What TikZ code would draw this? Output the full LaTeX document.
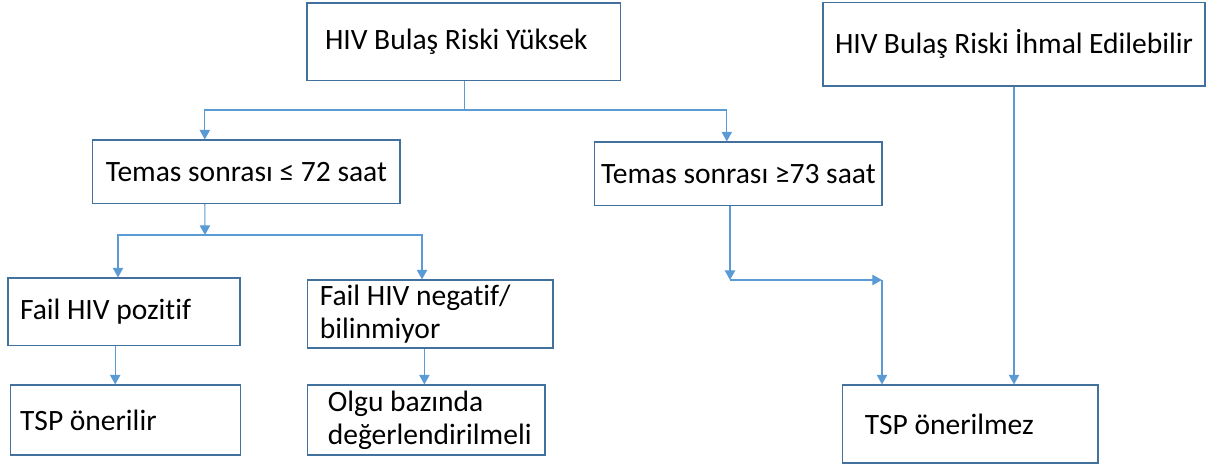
\documentclass[tikz,border=0pt]{standalone}
\usepackage{fontspec}
\setmainfont{Carlito}[Ligatures={NoCommon,NoRequired}]
\usepackage{xcolor}
\usepackage{tikz}
\usetikzlibrary{arrows.meta,positioning}
\definecolor{fcBorder}{HTML}{41719C}
\definecolor{fcLink}{HTML}{5B9BD5}
\definecolor{fcInk}{HTML}{000000}
\tikzset{
  fc diagram/.style={font=\fontsize{21}{23.5}\selectfont, text=fcInk,
    line join=miter},
  fc box/.style={draw=fcBorder, fill=white, line width=0.8pt,
    align=flush left, inner xsep=0.3cm, inner ysep=0pt},
  fc line/.style={draw=fcLink, line width=0.8pt},
  fc arrow/.style={fc line, -{Triangle[length=2.4mm,width=2.6mm]}}
}

\begin{document}
\begin{tikzpicture}[fc diagram]
\useasboundingbox (0,0) rectangle (30.25,11.7);
\node[fc box,inner xsep=0.45cm,text width=6.93cm,minimum height=1.93cm] (high) at (11.59,10.66) {HIV Bulaş Riski Yüksek};
\node[fc box,text width=8.95cm,minimum height=2.08cm] (negligible) at (25.35,10.59) {HIV Bulaş Riski İhmal Edilebilir};
\node[fc box,inner xsep=0.1cm,minimum width=7.68cm,minimum height=1.58cm] (early) at (6.16,7.41) {Temas sonrası ≤ 72 saat};
\node[fc box,inner xsep=0.1cm,minimum width=7.18cm,minimum height=1.58cm] (late) at (18.46,7.36) {Temas sonrası ≥73 saat};
\node[fc box,text width=5.2cm,minimum height=1.68cm] (srcpos) at (3.10,3.91) {Fail HIV pozitif\\[0.25cm]};
\node[fc box,text width=5.53cm,minimum height=1.70cm] (srcneg) at (10.76,3.85) {Fail HIV negatif/\\bilinmiyor};
\node[fc box,inner xsep=0.25cm,text width=5.25cm,minimum height=1.75cm] (pepyes) at (3.13,1.20) {TSP önerilir};
\node[fc box,inner xsep=0.5cm,text width=4.93cm,minimum height=1.75cm] (casebycase) at (10.66,1.20) {Olgu bazında\\değerlendirilmeli};
\node[fc box,inner xsep=0.55cm,text width=5.28cm,minimum height=1.95cm] (pepno) at (24.26,1.10) {TSP önerilmez};
\coordinate (split1) at (11.62,8.95);
\coordinate (split2) at (5.125,5.825);
\coordinate (bend1) at (18.25,4.7);
\coordinate (bend2) at (22.05,4.7);
\draw[fc line] (high.south -| split1) -- (split1);
\draw[fc arrow] (split1) -| ([xshift=-1.04cm]early.north);
\draw[fc arrow] (split1) -| ([xshift=-0.29cm]late.north);
\draw[fc arrow] ([xshift=-1.04cm]early.south) -- (split2);
\draw[fc arrow] (split2) -| ([xshift=-0.15cm]srcpos.north);
\draw[fc arrow] (split2) -| ([xshift=-0.21cm]srcneg.north);
\draw[fc arrow] ([xshift=-0.21cm]late.south) -- (bend1);
\draw[fc arrow] (bend1) -- (bend2);
\draw[fc arrow] (bend2) -- (bend2 |- pepno.north);
\draw[fc arrow] (negligible.south) -- (negligible.south |- pepno.north);
\draw[fc arrow] ([xshift=-0.22cm]srcpos.south) -- ([xshift=-0.22cm]srcpos.south |- pepyes.north);
\draw[fc arrow] ([xshift=-0.15cm]srcneg.south) -- ([xshift=-0.15cm]srcneg.south |- casebycase.north);
\end{tikzpicture}
\end{document}
